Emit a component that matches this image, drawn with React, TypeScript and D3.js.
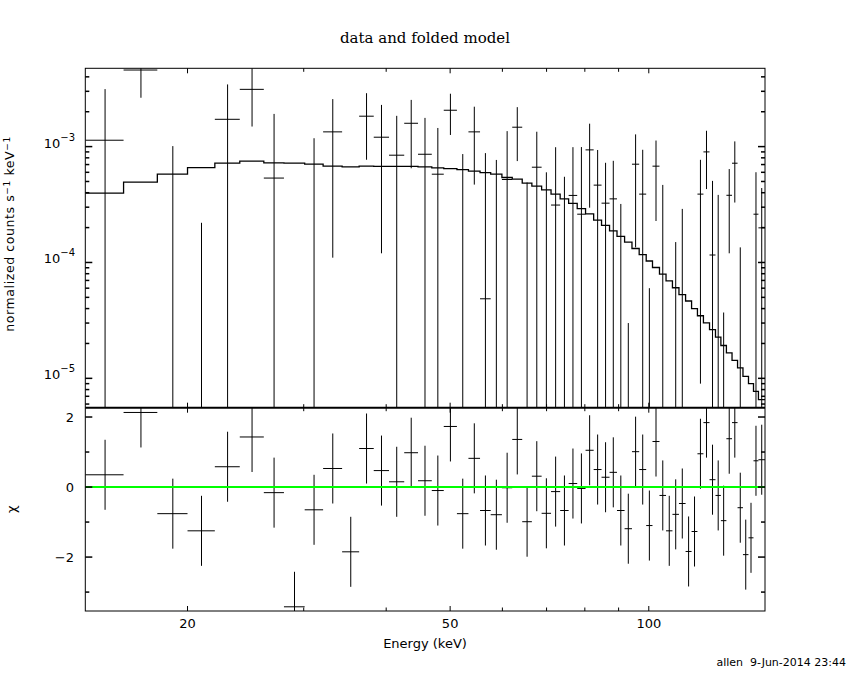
import * as d3 from 'd3'

// bin edges (keV), 59 bins
const binEdges = [
  14.0, 16.0, 18.0, 20.0, 22.0, 24.0, 26.1, 28.0, 30.1, 32.1, 34.3, 36.4, 38.3, 40.4, 42.6,
  44.7, 46.9, 48.9, 51.2, 53.3, 55.5, 57.6, 59.9, 62.1, 64.3, 66.5, 68.8, 71.1, 73.4, 75.6,
  77.9, 80.2, 82.5, 84.8, 87.2, 89.5, 91.9, 94.3, 96.7, 99.1, 101.3, 103.8, 106.2, 108.6,
  111.1, 113.7, 116.1, 118.5, 121.0, 123.6, 126.2, 128.6, 131.1, 133.7, 136.3, 138.9, 141.6,
  144.1, 146.6, 150.0,
]

// normalized counts s^-1 keV^-1
const dataRate = [
  1.135e-3, 4.58e-3, -7.9e-4, -1.53e-3, 1.72e-3, 3.12e-3, 5.35e-4, -3.73e-3, -1.79e-4, 1.34e-3,
  -1.37e-3, 1.83e-3, 1.205e-3, 8.43e-4, 1.59e-3, 8.59e-4, 5.78e-4, 2.06e-3, -7.8e-5, 1.34e-3,
  4.86e-5, -1.33e-4, 5.2e-4, 1.47e-3, -2.6e-4, 6.64e-4, -1.1e-4, 3.13e-4, -4.1e-5, 3.79e-4,
  2.61e-4, 9.37e-4, 4.65e-4, 3.25e-4, 3.54e-4, -1.4e-4, -6.2e-4, 7.05e-4, 3.89e-4, -3.6e-4,
  6.78e-4, -4.3e-5, -4.93e-4, -2.57e-4, -1.58e-4, -7.63e-4, -5.3e-4, 3.89e-4, 9.0e-4, 1.16e-4,
  -9.1e-5, -4.13e-4, 3.8e-4, 7.19e-4, -1.65e-4, -6.65e-4, -4.99e-4, 2.61e-4, 1.99e-4,
]

const dataErr = [
  2.0e-3, 1.94e-3, 1.8e-3, 1.75e-3, 1.72e-3, 1.63e-3, 1.38e-3, 1.3e-3, 1.36e-3, 1.23e-3,
  1.1e-3, 1.06e-3, 1.085e-3, 1.0e-3, 9.4e-4, 9.1e-4, 8.7e-4, 8.0e-4, 9.4e-4, 8.7e-4,
  8.3e-4, 9.0e-4, 8.4e-4, 7.2e-4, 7.5e-4, 6.8e-4, 7.1e-4, 6.75e-4, 5.9e-4, 6.1e-4,
  7.3e-4, 6.4e-4, 4.7e-4, 4.0e-4, 4.0e-4, 4.6e-4, 6.5e-4, 5.7e-4, 5.5e-4, 4.2e-4,
  4.5e-4, 5.1e-4, 4.5e-4, 4.07e-4, 4.48e-4, 4.4e-4, 4.5e-4, 3.8e-4, 4.7e-4, 3.9e-4,
  4.74e-4, 4.5e-4, 2.6e-4, 3.9e-4, 3.0e-4, 3.5e-4, 3.5e-4, 3.4e-4, 2.4e-4,
]

const modelRate = [
  3.97e-4, 4.93e-4, 5.78e-4, 6.59e-4, 7.19e-4, 7.48e-4, 7.23e-4, 7.19e-4, 7.05e-4, 6.78e-4,
  6.68e-4, 6.78e-4, 6.75e-4, 6.75e-4, 6.75e-4, 6.68e-4, 6.55e-4, 6.46e-4, 6.34e-4, 6.14e-4,
  5.97e-4, 5.78e-4, 5.41e-4, 5.23e-4, 4.83e-4, 4.56e-4, 4.24e-4, 3.89e-4, 3.54e-4, 3.23e-4,
  2.92e-4, 2.63e-4, 2.32e-4, 2.09e-4, 1.87e-4, 1.68e-4, 1.5e-4, 1.32e-4, 1.17e-4, 1.03e-4,
  9.05e-5, 7.94e-5, 6.95e-5, 6.05e-5, 5.27e-5, 4.65e-5, 3.99e-5, 3.47e-5, 3.01e-5, 2.63e-5,
  2.27e-5, 1.92e-5, 1.66e-5, 1.43e-5, 1.23e-5, 1.04e-5, 9.0e-6, 7.73e-6, 6.55e-6,
]

// (data - model) / error
const chiResid = [
  0.35, 2.13, -0.76, -1.25, 0.58, 1.43, -0.16, -3.42, -0.65, 0.53, -1.85, 1.1, 0.47, 0.15, 0.98,
  0.18, -0.1, 1.73, -0.76, 0.82, -0.67, -0.79, -0.02, 1.36, -0.99, 0.31, -0.75, -0.13, -0.67,
  0.1, -0.04, 1.05, 0.5, 0.28, 0.42, -0.67, -1.19, 1.01, 0.5, -1.1, 1.3, -0.24, -1.25, -0.78,
  -0.47, -1.84, -1.27, 0.95, 1.84, 0.21, -0.24, -0.96, 1.38, 1.84, -0.59, -1.93, -1.45, 0.75,
  0.78,
]

const xMajor = [20, 50, 100]
const xMinor = [30, 40, 60, 70, 80, 90]
const yMajor = [1e-5, 1e-4, 1e-3]
const yMajorExp = ['−5', '−4', '−3']
const chiMajor = [-2, 0, 2]
const chiMinor = [-3, -1, 1]

const L = 85.3
const R = 765
const T = 68.3
const MID = 407.7
const B = 611
const sans = 'DejaVu Sans, sans-serif'

export default function App() {
  const x = d3.scaleLog().domain([14, 150]).range([L, R])
  const yTop = d3.scaleLog().domain([5.58e-6, 4.74e-3]).range([MID, T])
  const yChi = d3.scaleLinear().domain([-3.54, 2.266]).range([B, MID])
  const ty = (v: number) => (v <= 0 ? MID + 10 : yTop(v))

  const bins = dataRate.map((d, i) => {
    const lo = binEdges[i]
    const hi = binEdges[i + 1]
    return { lo, hi, c: (lo + hi) / 2, d, e: dataErr[i], m: modelRate[i], chi: chiResid[i] }
  })

  const modelPath = d3
    .line<[number, number]>()
    .x((p) => x(p[0]))
    .y((p) => yTop(p[1]))(bins.flatMap((b) => [[b.lo, b.m], [b.hi, b.m]] as [number, number][]))

  // minor y ticks for the log panel
  const yMinor: number[] = []
  for (const dec of [1e-6, 1e-5, 1e-4, 1e-3]) {
    for (let k = 2; k <= 9; k++) {
      const v = k * dec
      if (v > 5.58e-6 && v < 4.74e-3) yMinor.push(v)
    }
  }

  return (
    <svg
      width={850}
      height={680}
      style={{ position: 'absolute', left: 0, top: 0, background: '#fff' }}
    >
      <defs>
        <clipPath id="clipTop">
          <rect x={L} y={T} width={R - L} height={MID - T} />
        </clipPath>
        <clipPath id="clipChi">
          <rect x={L} y={MID} width={R - L} height={B - MID} />
        </clipPath>
      </defs>
      <rect width={850} height={680} fill="#fff" />

      <text x={425} y={43} textAnchor="middle" fontFamily="DejaVu Serif, serif" fontSize={15}>
        data and folded model
      </text>

      {/* upper panel */}
      <g clipPath="url(#clipTop)" stroke="#000" strokeWidth={1} fill="none">
        {bins.map((b, i) => (
          <g key={i}>
            {b.d > 0 && <line x1={x(b.lo)} x2={x(b.hi)} y1={ty(b.d)} y2={ty(b.d)} />}
            {b.d + b.e > 0 && (
              <line x1={x(b.c)} x2={x(b.c)} y1={ty(b.d - b.e)} y2={ty(b.d + b.e)} />
            )}
          </g>
        ))}
        <path d={modelPath ?? ''} strokeWidth={1.3} />
      </g>

      {/* residual panel */}
      <g clipPath="url(#clipChi)" stroke="#000" strokeWidth={1} fill="none">
        {bins.map((b, i) => (
          <g key={i}>
            <line x1={x(b.lo)} x2={x(b.hi)} y1={yChi(b.chi)} y2={yChi(b.chi)} />
            <line x1={x(b.c)} x2={x(b.c)} y1={yChi(b.chi - 1)} y2={yChi(b.chi + 1)} />
          </g>
        ))}
        <line x1={L} x2={R} y1={yChi(0)} y2={yChi(0)} stroke="#00ff00" strokeWidth={2} />
      </g>

      {/* frames and ticks */}
      <g stroke="#000" fill="none">
        <rect x={L} y={T} width={R - L} height={B - T} strokeWidth={1} />
        <line x1={L} x2={R} y1={MID} y2={MID} strokeWidth={2} />
        {xMajor.concat(xMinor).map((v) => {
          const len = xMajor.includes(v) ? 5 : 3.5
          return (
            <g key={'xt' + v}>
              <line x1={x(v)} x2={x(v)} y1={T} y2={T + len} />
              <line x1={x(v)} x2={x(v)} y1={MID} y2={MID - len} />
              <line x1={x(v)} x2={x(v)} y1={MID} y2={MID + len} />
              <line x1={x(v)} x2={x(v)} y1={B} y2={B - len} />
            </g>
          )
        })}
        {yMajor.map((v) => (
          <g key={'ym' + v}>
            <line x1={L} x2={L + 7} y1={yTop(v)} y2={yTop(v)} strokeWidth={1.5} />
            <line x1={R} x2={R - 7} y1={yTop(v)} y2={yTop(v)} strokeWidth={1.5} />
          </g>
        ))}
        {yMinor.map((v) => (
          <g key={'yn' + v}>
            <line x1={L} x2={L + 4} y1={yTop(v)} y2={yTop(v)} strokeWidth={1.5} />
            <line x1={R} x2={R - 4} y1={yTop(v)} y2={yTop(v)} strokeWidth={1.5} />
          </g>
        ))}
        {chiMajor.map((v) => (
          <g key={'cm' + v}>
            <line x1={L} x2={L + 7} y1={yChi(v)} y2={yChi(v)} strokeWidth={1.5} />
            <line x1={R} x2={R - 7} y1={yChi(v)} y2={yChi(v)} strokeWidth={1.5} />
          </g>
        ))}
        {chiMinor.map((v) => (
          <g key={'cn' + v}>
            <line x1={L} x2={L + 4} y1={yChi(v)} y2={yChi(v)} strokeWidth={1.5} />
            <line x1={R} x2={R - 4} y1={yChi(v)} y2={yChi(v)} strokeWidth={1.5} />
          </g>
        ))}
      </g>

      {/* tick labels */}
      <g fontFamily={sans} fontSize={13} fill="#000">
        {xMajor.map((v) => (
          <text key={'xl' + v} x={x(v)} y={628} textAnchor="middle">
            {v}
          </text>
        ))}
        {yMajor.map((v, i) => (
          <text key={'yl' + v} x={75} y={yTop(v) + 1} textAnchor="end">
            10
            <tspan dy={-7} fontSize={10}>
              {yMajorExp[i]}
            </tspan>
          </text>
        ))}
        {chiMajor.map((v) => (
          <text key={'cl' + v} x={74} y={yChi(v) + 5} textAnchor="end">
            {v < 0 ? '−' + Math.abs(v) : v}
          </text>
        ))}
      </g>

      {/* axis titles */}
      <text
        transform="translate(14,234) rotate(-90)"
        textAnchor="middle"
        fontFamily={sans}
        fontSize={12.5}
        letterSpacing={0.6}
      >
        normalized counts s
        <tspan dy={-4} fontSize={9}>
          −1
        </tspan>
        <tspan dy={4}> keV</tspan>
        <tspan dy={-4} fontSize={9}>
          −1
        </tspan>
      </text>
      <text
        transform={`translate(16,${(MID + B) / 2}) rotate(-90)`}
        textAnchor="middle"
        fontFamily={sans}
        fontSize={13}
      >
        χ
      </text>
      <text x={425} y={648} textAnchor="middle" fontFamily={sans} fontSize={13}>
        Energy (keV)
      </text>
      <text
        x={846}
        y={666}
        textAnchor="end"
        fontFamily={sans}
        fontSize={11}
        style={{ whiteSpace: 'pre' }}
      >
        {'allen  9-Jun-2014 23:44'}
      </text>
    </svg>
  )
}
